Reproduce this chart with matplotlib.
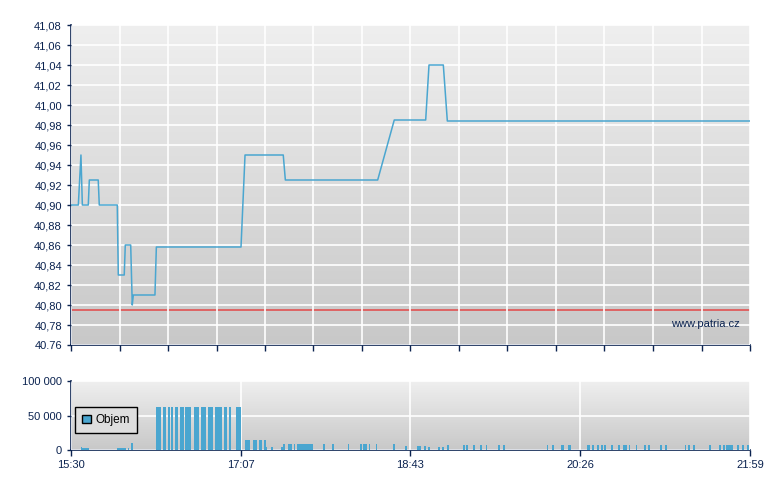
import numpy as np
import matplotlib
matplotlib.use("Agg")
import matplotlib.pyplot as plt
from matplotlib.colors import LinearSegmentedColormap
from matplotlib.patches import Patch

plt.rcParams["font.family"] = ["Liberation Sans", "DejaVu Sans"]
plt.rcParams["font.size"] = 8

# price (minutes after 15:30)
price_t = [0, 4.2, 5.7, 6.5, 9.9, 10.5, 15.6, 16.2, 26.5, 27.1, 30.5, 31.1, 34.2, 35.1,
           35.7, 48.1, 48.9, 97.4, 99.7, 121.6, 122.8, 175.7, 185.2, 203.2, 205.1,
           213.3, 215.6, 389]
price = [40.90, 40.90, 40.95, 40.90, 40.90, 40.925, 40.925, 40.90, 40.90, 40.83, 40.83,
         40.86, 40.86, 40.80, 40.81, 40.81, 40.858, 40.858, 40.95, 40.95, 40.925, 40.925,
         40.985, 40.985, 41.04, 41.04, 40.984, 40.984]
ref_price = 40.795

# volume (minute, shares)
vol_t = [6, 7, 8, 9, 10, 27, 28, 29, 30, 31, 33, 35,
         49, 50, 51, 53, 54, 56, 58, 60, 61, 63, 64, 66, 67, 68, 71, 72, 73, 75, 76, 77,
         79, 80, 81, 83, 84, 85, 86, 88, 89, 91, 95, 96, 97,
         100, 101, 102, 105, 106, 108, 109, 111, 112, 115, 121,
         122, 125, 126, 128, 130, 131, 132, 133, 134, 135, 136, 137, 138, 145, 150, 159,
         166, 168, 169, 171, 175, 185, 192, 199, 200, 203, 205, 211, 213,
         216, 225, 227, 231, 235, 238, 245, 248, 273, 276, 281, 282, 285, 286, 296, 297,
         299, 302, 304, 306, 310, 314, 317, 318, 320, 324, 329, 331, 338, 341, 352, 354,
         357, 366, 372, 374, 376, 377, 378, 379, 382, 385, 388]
vol = [4300, 2900, 2900, 2900, 2900, 3600, 3600, 3600, 3600, 2200, 2200, 10100] \
    + [62000] * 33 \
    + [14400] * 8 + [4300] * 3 \
    + [8000] * 22 + [5800] * 4 + [4300] * 3 \
    + [7200] * 43

y_ticks = np.round(np.arange(40.76, 41.081, 0.02), 2)
y_labels = ["40.76"] + [f"{v:.2f}".replace(".", ",") for v in y_ticks[1:]]
time_labels = ["15:30", "17:07", "18:43", "20:26", "21:59"]
vol_ticks = [0, 50000, 100000]
vol_labels = ["0", "50 000", "100 000"]

navy = "#0b2350"
blue = "#4aa6d0"
bg = LinearSegmentedColormap.from_list("bg", ["#c8c8c8", "#efefef"])

fig = plt.figure(figsize=(7.8, 4.9), dpi=100)
ax = fig.add_axes([71 / 780, 1 - 345 / 490, 679 / 780, 320 / 490])
axv = fig.add_axes([71 / 780, 1 - 450 / 490, 679 / 780, 69 / 490])

for a in (ax, axv):
    a.imshow(np.linspace(0, 1, 256).reshape(-1, 1)[::-1], extent=[0, 1, 0, 1],
             transform=a.transAxes, aspect="auto", cmap=bg, zorder=0)
    for s in ("top", "right"):
        a.spines[s].set_visible(False)
    for s in ("left", "bottom"):
        a.spines[s].set_color(navy)
        a.spines[s].set_linewidth(1.2)
    a.tick_params(colors=navy, labelcolor=navy, length=4, width=1, direction="out")
    a.grid(True, color="white", lw=1.2, zorder=1)
    a.set_axisbelow(False)
    a.set_xlim(0, 389)

ax.plot(price_t, price, color=blue, lw=1.1, zorder=3)
ax.axhline(ref_price, color="#e34848", lw=1.1, zorder=2)
ax.set_ylim(40.76, 41.08)
ax.set_yticks(y_ticks)
ax.set_yticklabels(y_labels)
ax.set_xticks(np.linspace(0, 389, 15))
ax.set_xticklabels([])
ax.tick_params(axis="y", length=3)
ax.text(0.985, 0.065, "www.patria.cz", transform=ax.transAxes, ha="right",
        va="center", color=navy, fontsize=8, zorder=4)

axv.bar(vol_t, vol, width=1, color=blue, zorder=3, linewidth=0)
axv.set_ylim(0, 100000)
axv.set_yticks(vol_ticks)
axv.set_yticklabels(vol_labels)
axv.set_xticks(np.linspace(0, 389, 5))
axv.set_xticklabels(time_labels)
axv.tick_params(axis="y", length=3)
leg = axv.legend(handles=[Patch(facecolor=blue, edgecolor="black", label="Objem")],
                 loc="lower left", bbox_to_anchor=(0.006, 0.246), fancybox=False,
                 framealpha=1, edgecolor="black", handlelength=0.75, handleheight=0.75,
                 handletextpad=0.35, borderpad=0.6, borderaxespad=0, fontsize=8.5)
frame = leg.get_frame()
frame.set_linewidth(1)
frame.set_facecolor((0.87, 0.87, 0.87, 0.25))
frame.set_edgecolor("black")

fig.savefig("out.png", dpi=100)
